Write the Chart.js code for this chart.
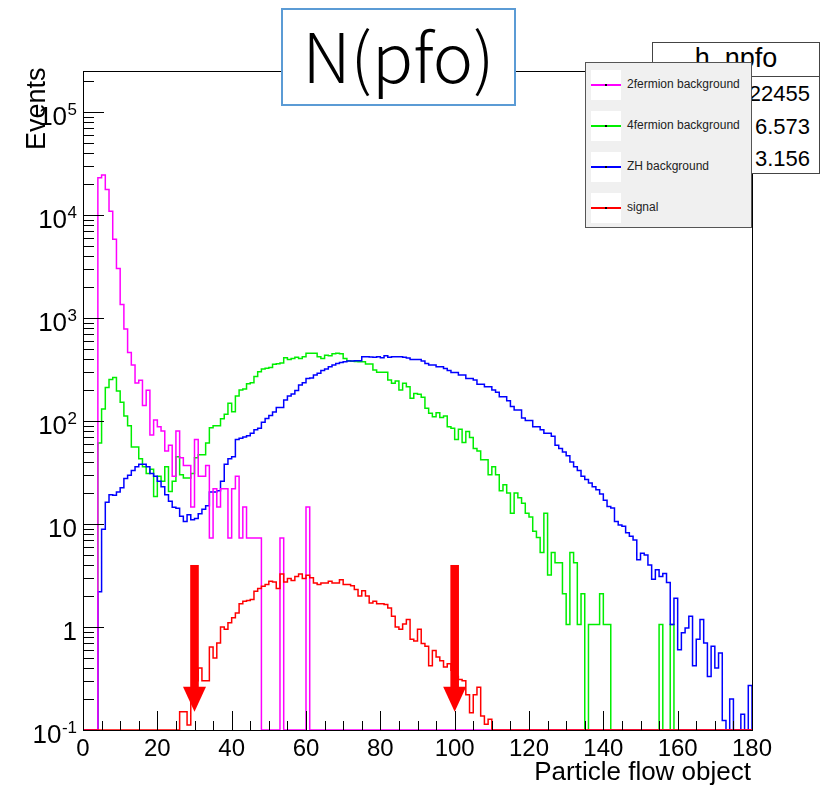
<!DOCTYPE html>
<html>
<head>
<meta charset="utf-8">
<script src="https://cdn.jsdelivr.net/npm/chart.js@4.4.0/dist/chart.umd.min.js"></script>
<style>
  body { margin: 0; background: #fff; }
  #wrap { position: relative; width: 828px; height: 788px; font-family: "Liberation Sans", Arial, sans-serif; color: #000; }
  #hist { position: absolute; left: 0; top: 0; }
  #title { position: absolute; left: 281px; top: 8px; width: 235px; height: 98px; box-sizing: border-box;
           border: 2px solid #5b9bd5; background: #fff; text-align: center;
           font-family: "Noto Sans CJK JP", "Noto Sans", sans-serif; font-weight: 300; font-size: 68px; line-height: 88px; }
  #stats { position: absolute; left: 652px; top: 42px; width: 168px; height: 132px; box-sizing: border-box;
           border: 1.5px solid #444; background: #fff; }
  #stats .head { position: absolute; left: 0; right: 0; top: 2px; height: 31px; border-bottom: 1.5px solid #444;
                 text-align: center; font-size: 27px; line-height: 27px; }
  #stats .row { position: absolute; right: 9px; font-size: 22px; line-height: 22px; }
  #legend { position: absolute; left: 585px; top: 62px; width: 167px; height: 166px; box-sizing: border-box;
            border: 1.5px solid #555; background: #f0f0f0; }
  #legend .icon { position: absolute; left: 5px; width: 30px; height: 30px; background: #fff; }
  #legend .icon i { position: absolute; left: 0; right: 0; top: 14px; height: 2px; }
  #legend .icon b { position: absolute; left: 14px; top: 14px; width: 2px; height: 2px; background: #000; }
  #legend .txt { position: absolute; left: 41px; font-size: 12px; line-height: 28px; color: #222; white-space: nowrap; }
  #ytitle { position: absolute; left: 0; top: 0; font-size: 27px; line-height: 27px; white-space: nowrap;
            transform-origin: 0 0; transform: translate(23px, 150px) rotate(-90deg); }
  #xtitle { position: absolute; right: 77px; top: 758px; font-size: 26px; line-height: 26px; white-space: nowrap; }
</style>
</head>
<body>
<div id="wrap">
  <canvas id="hist" width="828" height="788"></canvas>
  <div id="title">N(pfo)</div>
  <div id="stats">
    <div class="head">h_npfo</div>
    <div class="row" style="top:40px">22455</div>
    <div class="row" style="top:73px">6.573</div>
    <div class="row" style="top:105px">3.156</div>
  </div>
  <div id="legend"></div>
  <div id="ytitle">Events</div>
  <div id="xtitle">Particle flow object</div>
</div>
<script>
// histogram binning: 180 bins of width 1 from 0 to 180
const xMin = 0;
const xMax = 180;
const binWidth = 1;

const yMin = 0.1;
const yMax = 2.5e5;

const xTickValues = [0, 20, 40, 60, 80, 100, 120, 140, 160, 180];
const yTickValues = [0.1, 1, 10, 100, 1000, 10000, 100000];
const yTickBases = ['10', '1', '10', '10', '10', '10', '10'];
const yTickExponents = ['-1', '', '', '2', '3', '4', '5'];

const seriesNames = ['2fermion background', '4fermion background', 'ZH background', 'signal'];
const seriesColors = ['#ff00ff', '#00ee00', '#0000ff', '#ff0000'];

// cut positions shown by the red arrows
const cutValues = [30, 100];

// bin contents, 10 bins per row
const twoFermion = [
  0, 0, 0, 0, 23000, 24500, 17700, 10900, 5800, 3020,
  1350, 780, 463, 350, 234, 248, 141, 199, 73, 102,
  88, 80, 51, 58, 29, 80, 44, 37, 37, 14.6,
  66, 29, 29, 37, 7.3, 22, 14.6, 22, 22, 7.3,
  22, 29, 7.3, 14.6, 7.3, 7.3, 7.3, 7.3, 0, 0,
  0, 0, 0, 7.3, 0, 0, 0, 0, 0, 0,
  14.6, 0, 0, 0, 0, 0, 0, 0, 0, 0,
  0, 0, 0, 0, 0, 0, 0, 0, 0, 0,
  0, 0, 0, 0, 0, 0, 0, 0, 0, 0,
  0, 0, 0, 0, 0, 0, 0, 0, 0, 0,
  0, 0, 0, 0, 0, 0, 0, 0, 0, 0,
  0, 0, 0, 0, 0, 0, 0, 0, 0, 0,
  0, 0, 0, 0, 0, 0, 0, 0, 0, 0,
  0, 0, 0, 0, 0, 0, 0, 0, 0, 0,
  0, 0, 0, 0, 0, 0, 0, 0, 0, 0,
  0, 0, 0, 0, 0, 0, 0, 0, 0, 0,
  0, 0, 0, 0, 0, 0, 0, 0, 0, 0,
  0, 0, 0, 0, 0, 0, 0, 0, 0, 0
];

const fourFermion = [
  0, 0, 0, 0, 61, 131, 211, 253, 265, 195,
  152, 112, 90, 56, 56, 43, 36, 31, 34, 18.5,
  29, 26, 36, 20.7, 26, 45, 30, 28, 28, 31,
  44, 47, 47, 61, 86, 90, 90, 105, 116, 149,
  123, 175, 200, 205, 230, 235, 270, 300, 320, 325,
  330, 355, 360, 365, 411, 395, 405, 415, 405, 420,
  455, 455, 455, 420, 405, 435, 430, 450, 455, 450,
  405, 385, 380, 378, 376, 376, 357, 357, 313, 297,
  297, 297, 250, 232, 245, 200, 232, 215, 166, 185,
  182, 170, 133, 119, 110, 120, 108, 112, 88, 85,
  66, 83, 62, 79, 69, 54, 51, 42, 42, 30,
  36, 30, 21, 24, 20, 12.7, 20, 18, 15.9, 12.7,
  11.7, 8.5, 7.4, 5.3, 12.7, 3.2, 5.3, 4.2, 4.2, 2.1,
  1.06, 5.3, 4.2, 1.06, 2.1, 0, 1.06, 1.06, 1.06, 2.1,
  1.06, 1.06, 0, 0, 0, 0, 0, 0, 0, 0,
  0, 0, 0, 0, 0, 1.06, 0, 0, 1.06, 0,
  0, 0, 0, 0, 0, 0, 0, 0, 0, 0,
  0, 0, 0, 0, 0, 0, 0, 0, 0, 0
];

const zhBackground = [
  0, 0, 0, 0, 2.2, 8.9, 16.3, 19.2, 19, 20.5,
  22.5, 27.7, 29.8, 33, 36, 38, 38, 36, 31, 29,
  26, 23, 19.2, 16.6, 14.5, 14.2, 11.9, 10.6, 12.3, 11,
  11.3, 12.6, 13.9, 15, 20.4, 20.4, 21, 26, 38, 43,
  45, 66, 68, 70, 72, 76, 82, 85, 97, 106,
  113, 122, 135, 135, 160, 175, 183, 198, 223, 235,
  259, 262, 280, 290, 310, 320, 337, 349, 362, 370,
  375, 382, 382, 385, 385, 421, 421, 418, 415, 421,
  411, 430, 415, 421, 421, 421, 415, 410, 396, 396,
  396, 382, 362, 349, 349, 337, 337, 324, 310, 295,
  295, 280, 280, 259, 259, 250, 228, 228, 215, 215,
  200, 190, 172, 172, 157, 138, 128, 128, 107, 101,
  101, 88, 88, 82, 76, 76, 71, 58, 54, 50,
  46, 40, 36, 33, 29, 27, 25, 23, 21.5, 19.5,
  17, 14.8, 14.3, 10.6, 9.8, 9.5, 8.2, 7.6, 7.0, 4.5,
  5.2, 5.0, 4.0, 2.9, 3.6, 3.1, 3.3, 2.7, 1.06, 1.9,
  0.6, 0.88, 0.98, 1.27, 0.42, 0.76, 1.18, 0.70, 0.33, 0.65,
  0.40, 0.56, 0.124, 0, 0.2, 0, 0, 0.142, 0, 0.27
];

const signal = [
  0, 0, 0, 0, 0, 0, 0, 0, 0, 0,
  0, 0, 0, 0, 0, 0, 0, 0, 0, 0,
  0, 0, 0, 0, 0, 0, 0.15, 0.15, 0.112, 0.2,
  0.3, 0.4, 0.3, 0.3, 0.64, 0.5, 0.7, 1.0, 0.95, 1.1,
  1.23, 1.37, 1.68, 1.78, 1.81, 1.85, 2.22, 2.36, 2.48, 2.58,
  2.78, 2.74, 2.36, 3.27, 2.74, 2.95, 2.82, 3.10, 3.27, 2.95,
  3.18, 3.0, 2.68, 2.58, 2.68, 2.68, 2.78, 2.68, 2.68, 2.88,
  2.58, 2.58, 2.52, 2.31, 2.0, 2.25, 2.0, 1.71, 1.78, 1.68,
  1.68, 1.65, 1.53, 1.27, 1.0, 0.95, 1.07, 1.18, 0.76, 0.73,
  0.95, 0.69, 0.65, 0.42, 0.59, 0.51, 0.47, 0.41, 0.44, 0.38,
  0.33, 0.31, 0.30, 0.22, 0.147, 0.22, 0.26, 0.137, 0.114, 0.127,
  0, 0, 0, 0, 0, 0, 0, 0, 0, 0,
  0, 0, 0, 0, 0, 0, 0, 0, 0, 0,
  0, 0, 0, 0, 0, 0, 0, 0, 0, 0,
  0, 0, 0, 0, 0, 0, 0, 0, 0, 0,
  0, 0, 0, 0, 0, 0, 0, 0, 0, 0,
  0, 0, 0, 0, 0, 0, 0, 0, 0, 0,
  0, 0, 0, 0, 0, 0, 0, 0, 0, 0
];

const seriesValues = [twoFermion, fourFermion, zhBackground, signal];
// which histogram ends up on top (lower = drawn later)
const drawOrder = [1, 3, 2, 0];

// empty bins sit on the lower edge of the log axis, like ROOT does
function histPoints(values) {
  const pts = values.map((v, i) => ({ x: xMin + i * binWidth, y: Math.max(v, yMin) }));
  pts.push({ x: xMax, y: yMin });
  return pts;
}

// legend
const legend = document.getElementById('legend');
const entryTops = [7, 48, 89, 130];
seriesNames.forEach((name, i) => {
  const icon = document.createElement('div');
  icon.className = 'icon';
  icon.style.top = entryTops[i] + 'px';
  icon.innerHTML = '<i style="background:' + seriesColors[i] + '"></i><b></b>';
  legend.appendChild(icon);
  const txt = document.createElement('div');
  txt.className = 'txt';
  txt.style.top = entryTops[i] + 'px';
  txt.textContent = name;
  legend.appendChild(txt);
});

const FONT = '"Liberation Sans", Arial, sans-serif';

const rootAxes = {
  id: 'rootAxes',
  afterDatasetsDraw(chart) {
    const { ctx, chartArea: a, scales: { x, y } } = chart;
    ctx.save();

    // cut arrows
    ctx.fillStyle = '#ff0000';
    cutValues.forEach(c => {
      const px = x.getPixelForValue(c);
      const top = y.getPixelForValue(4);
      const tip = y.getPixelForValue(0.15);
      const headH = 25;
      ctx.fillRect(px - 4.3, top, 8.6, tip - headH - top + 1);
      ctx.beginPath();
      ctx.moveTo(px - 11.5, tip - headH);
      ctx.lineTo(px + 11.5, tip - headH);
      ctx.lineTo(px, tip);
      ctx.closePath();
      ctx.fill();
    });

    // inside ticks
    ctx.strokeStyle = '#000';
    ctx.lineWidth = 1;
    ctx.beginPath();
    for (let v = xMin; v <= xMax; v += 5) {
      const px = Math.round(x.getPixelForValue(v)) + 0.5;
      const len = v % 20 === 0 ? 19 : 9;
      ctx.moveTo(px, a.bottom);
      ctx.lineTo(px, a.bottom - len);
    }
    for (let d = -1; d <= 5; d++) {
      for (let k = 1; k <= 9; k++) {
        const v = k * Math.pow(10, d);
        if (v < yMin || v > yMax) continue;
        const py = Math.round(y.getPixelForValue(v)) + 0.5;
        ctx.moveTo(a.left, py);
        ctx.lineTo(a.left + (k === 1 ? 21 : 11), py);
      }
    }
    ctx.stroke();
    ctx.strokeRect(a.left + 0.5, a.top + 0.5, a.right - a.left, a.bottom - a.top);

    // y labels with raised exponents
    ctx.fillStyle = '#000';
    ctx.textAlign = 'right';
    ctx.textBaseline = 'alphabetic';
    yTickValues.forEach((v, i) => {
      const py = y.getPixelForValue(v);
      let right = a.left - 6;
      const exp = yTickExponents[i];
      if (exp) {
        ctx.font = '17px ' + FONT;
        ctx.fillText(exp, right, py + 3);
        right -= ctx.measureText(exp).width + 0.5;
      }
      ctx.font = '26px ' + FONT;
      ctx.fillText(yTickBases[i], right, py + 13);
    });
    ctx.restore();
  }
};

const ctx = document.getElementById('hist').getContext('2d');
new Chart(ctx, {
  type: 'line',
  data: {
    datasets: seriesNames.map((name, i) => ({
      label: name,
      data: histPoints(seriesValues[i]),
      borderColor: seriesColors[i],
      borderWidth: 1.5,
      stepped: 'before',
      pointRadius: 0,
      fill: false,
      order: drawOrder[i]
    }))
  },
  options: {
    responsive: false,
    animation: false,
    devicePixelRatio: 1,
    layout: { padding: { top: 71, right: 76, bottom: 0, left: 0 } },
    plugins: { legend: { display: false }, title: { display: false }, tooltip: { enabled: false } },
    scales: {
      x: {
        type: 'linear',
        min: xMin,
        max: xMax,
        afterBuildTicks: s => { s.ticks = xTickValues.map(v => ({ value: v })); },
        afterFit: s => { s.height = 58; },
        grid: { display: false, drawTicks: false },
        border: { display: false },
        ticks: {
          autoSkip: false, maxRotation: 0, padding: 5, color: '#000',
          font: { family: FONT, size: 24 }
        }
      },
      y: {
        type: 'logarithmic',
        min: yMin,
        max: yMax,
        afterBuildTicks: s => { s.ticks = yTickValues.map(v => ({ value: v })); },
        afterFit: s => { s.width = 83; },
        grid: { display: false, drawTicks: false },
        border: { display: false },
        ticks: { display: false }
      }
    }
  },
  plugins: [rootAxes]
});
</script>
</body>
</html>
